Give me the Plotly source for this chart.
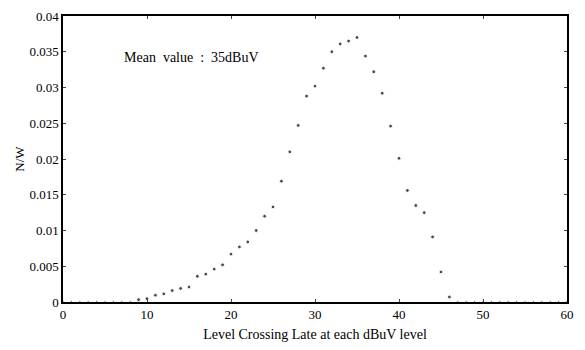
import plotly.graph_objects as go

levels = list(range(0, 61))
nw_values = (
    [0, 0, 0, 0, 0, 0, 0, 0, 0,
     0.00033, 0.00046, 0.00095, 0.00114, 0.0016, 0.0019, 0.0021,
     0.0036, 0.0039, 0.0046, 0.0052, 0.0067, 0.0077, 0.0084, 0.0100,
     0.0120, 0.0133, 0.0169, 0.0210, 0.0247, 0.0288, 0.0302, 0.0327,
     0.0350, 0.0361, 0.0365, 0.0370, 0.0344, 0.0322, 0.0292, 0.0246,
     0.0201, 0.0156, 0.0135, 0.0125, 0.0091, 0.0042, 0.0007]
    + [0] * 14
)
x_ticks = [0, 10, 20, 30, 40, 50, 60]
y_ticks = [0, 0.005, 0.01, 0.015, 0.02, 0.025, 0.03, 0.035, 0.04]
y_tick_labels = ["0", "0.005", "0.01", "0.015", "0.02", "0.025", "0.03", "0.035", "0.04"]

font = "Liberation Serif"
marker_sizes = [2.5 if v == 0 else 3.8 for v in nw_values]

fig = go.Figure()
fig.add_trace(go.Scatter(
    x=levels, y=nw_values, mode="markers",
    marker=dict(color="black", size=marker_sizes),
    showlegend=False, cliponaxis=False,
))

fig.add_annotation(
    x=7, y=0.0342, xref="x", yref="y",
    text="Mean&nbsp;&nbsp;value&nbsp;&nbsp;:&nbsp;&nbsp;35dBuV",
    showarrow=False, xanchor="left", yanchor="middle",
    font=dict(family=font, size=14, color="black"),
)

fig.update_layout(
    width=585, height=350,
    margin=dict(l=63, r=18, t=9, b=48),
    paper_bgcolor="white", plot_bgcolor="white",
    font=dict(family=font, size=13, color="black"),
)
fig.update_xaxes(
    range=[0, 60], tickvals=x_ticks, ticks="inside", ticklen=3,
    tickfont=dict(family=font, size=13),
    showline=True, linecolor="black", linewidth=1.5, mirror="ticks",
    showgrid=False, zeroline=False,
    title=dict(text="Level Crossing Late at each dBuV level", standoff=8,
               font=dict(family=font, size=14)),
)
fig.update_yaxes(
    range=[0, 0.04], tickvals=y_ticks, ticktext=y_tick_labels,
    ticks="inside", ticklen=3,
    tickfont=dict(family=font, size=13),
    showline=True, linecolor="black", linewidth=1.5, mirror="ticks",
    showgrid=False, zeroline=False,
    title=dict(text="N/W", standoff=2, font=dict(family=font, size=13)),
)

fig.write_html("out.html")
